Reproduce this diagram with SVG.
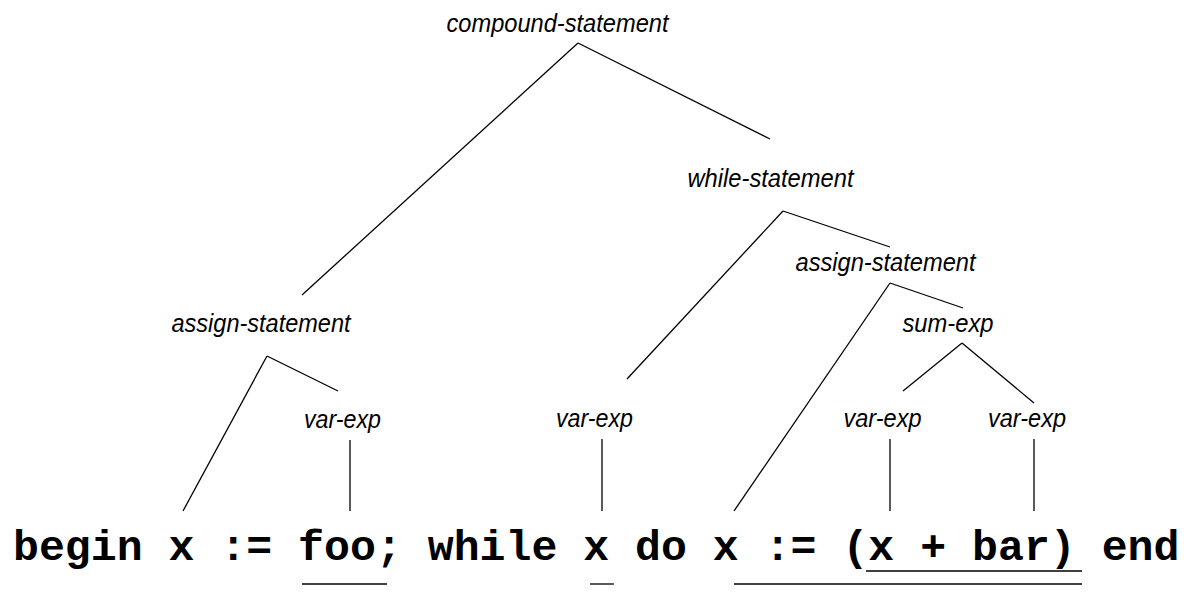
<svg xmlns="http://www.w3.org/2000/svg" width="1186" height="606" viewBox="0 0 1186 606">
<style>
.lbl{font-family:"Liberation Sans",Arial,sans-serif;font-style:italic;font-size:26px;fill:#000;text-anchor:middle}
.code{font-family:"Liberation Mono","Courier New",monospace;font-weight:bold;font-size:43.2px;fill:#000}
.ln{stroke:#000;stroke-width:1.3;fill:none}
</style>
<rect width="1186" height="606" fill="#fff"/>
<g id="compound-statement"><text class="lbl" x="557.5" y="32" textLength="222" lengthAdjust="spacingAndGlyphs">compound-statement</text></g>
<g id="while-statement"><text class="lbl" x="770.5" y="187" textLength="166" lengthAdjust="spacingAndGlyphs">while-statement</text></g>
<g id="assign-statement-1"><text class="lbl" x="261" y="332" textLength="179" lengthAdjust="spacingAndGlyphs">assign-statement</text></g>
<g id="assign-statement-2"><text class="lbl" x="885.5" y="271" textLength="180" lengthAdjust="spacingAndGlyphs">assign-statement</text></g>
<g id="sum-exp"><text class="lbl" x="948" y="332" textLength="91" lengthAdjust="spacingAndGlyphs">sum-exp</text></g>
<g id="var-exp-1"><text class="lbl" x="342.5" y="428" textLength="77" lengthAdjust="spacingAndGlyphs">var-exp</text></g>
<g id="var-exp-2"><text class="lbl" x="594.5" y="427" textLength="77" lengthAdjust="spacingAndGlyphs">var-exp</text></g>
<g id="var-exp-3"><text class="lbl" x="882.5" y="427" textLength="78" lengthAdjust="spacingAndGlyphs">var-exp</text></g>
<g id="var-exp-4"><text class="lbl" x="1027" y="427" textLength="78" lengthAdjust="spacingAndGlyphs">var-exp</text></g>
<g id="source">
<text class="code" x="13" y="560" textLength="1166.4" lengthAdjust="spacing">begin x := foo; while x do x := (x + bar) end</text>
<line class="ln" x1="302" y1="584" x2="387" y2="584"/>
<line class="ln" x1="590" y1="584" x2="614" y2="584"/>
<line class="ln" x1="734" y1="584" x2="1082" y2="584"/>
<line class="ln" x1="866" y1="571" x2="1082" y2="571"/>
</g>
<g id="connectors">
<line class="ln" x1="578" y1="43" x2="302" y2="295"/>
<line class="ln" x1="578" y1="43" x2="770" y2="139"/>
<line class="ln" x1="783" y1="211" x2="627" y2="379"/>
<line class="ln" x1="783" y1="211" x2="890" y2="247"/>
<line class="ln" x1="890" y1="283" x2="734" y2="511"/>
<line class="ln" x1="890" y1="283" x2="963" y2="308"/>
<line class="ln" x1="962" y1="343" x2="903" y2="391"/>
<line class="ln" x1="962" y1="343" x2="1034" y2="403"/>
<line class="ln" x1="890" y1="439" x2="890" y2="511"/>
<line class="ln" x1="1034" y1="439" x2="1034" y2="511"/>
<line class="ln" x1="267" y1="356" x2="183" y2="511"/>
<line class="ln" x1="267" y1="356" x2="338" y2="391"/>
<line class="ln" x1="350" y1="440" x2="350" y2="511"/>
<line class="ln" x1="602" y1="439" x2="602" y2="511"/>
</g>
</svg>
